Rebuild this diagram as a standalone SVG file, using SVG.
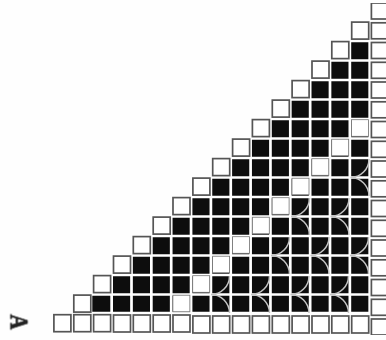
<svg xmlns="http://www.w3.org/2000/svg" width="386" height="340" viewBox="0 0 386 340">
<style>
.g{stroke:#fff;stroke-width:2.7;fill:none}
.w{fill:#fff;stroke:#555;stroke-width:1.7}
.d{fill:#fff;stroke:#777;stroke-width:.8}
.a{fill:none;stroke:#c4c4c4;stroke-width:1.5}
.t{font-family:"Liberation Serif",serif;font-weight:700;font-size:25px;fill:#222;stroke:#222;stroke-width:.7;text-anchor:middle}
</style>
<defs>
<filter id="soft" x="0" y="0" width="100%" height="100%"><feGaussianBlur stdDeviation=".55"/></filter>
<rect id="s" class="w" width="17" height="17"/>
<rect id="q" class="d" width="17" height="16.6"/>
<rect id="r" class="w" width="22" height="16"/>
<path id="v" class="a" d="M0 0A18.5 18.5 0 0 0 18.5 -18.5M0 0A18.5 18.5 0 0 1 18.5 18.5"/>
</defs>
<rect width="386" height="340" fill="#fefefe"/>
<g filter="url(#soft)">
<path id="black" fill="#0e0e0e" d="M92.3 313V294.5H112.15V275H132V255.5H151.85V236H171.7V216.5H191.55V197H211.4V177.5H231.25V158H251.1V138.5H270.95V119H290.8V99.5H310.65V80H330.5V60.5H350.35V41H370.2V313Z"/>
<g id="gutters" class="g">
<path d="M111.65 276V314M131.5 256V314M151.35 236V314M171.2 216V314M191.05 197V314M210.9 178V314M230.75 158V314M250.6 138V314M270.45 119V314M290.3 100V314M310.15 80V314M330 60V314M349.85 41V314M369.7 41V314"/>
<path d="M92 294.5H370M112 275H370M131 255.5H370M151 236H370M171 216.5H370M191 197H370M211 177.5H370M231 158H370M251 138.5H370M270 119H370M290 99.5H370M310 80H370M330 60.5H370M350 41H370M92 313H370"/>
</g>
<g id="diagonal">
<use href="#q" x="172.9" y="295.2"/><use href="#q" x="192.7" y="275.7"/><use href="#q" x="212.6" y="256.2"/><use href="#q" x="232.4" y="236.7"/><use href="#q" x="252.3" y="217.2"/><use href="#q" x="272.1" y="197.7"/><use href="#q" x="292" y="178.2"/><use href="#q" x="311.8" y="158.7"/><use href="#q" x="331.7" y="139.2"/><use href="#q" x="351.5" y="119.7"/>
</g>
<g id="stairs">
<use href="#s" x="73.8" y="295.1"/><use href="#s" x="93.6" y="275.6"/><use href="#s" x="113.5" y="256.1"/><use href="#s" x="133.3" y="236.6"/><use href="#s" x="153.2" y="217.1"/><use href="#s" x="173" y="197.6"/><use href="#s" x="192.9" y="178.1"/><use href="#s" x="212.7" y="158.6"/><use href="#s" x="232.6" y="139.1"/><use href="#s" x="252.4" y="119.6"/><use href="#s" x="272.3" y="100.1"/><use href="#s" x="292.1" y="80.6"/><use href="#s" x="312" y="61.1"/><use href="#s" x="331.8" y="41.6"/><use href="#s" x="351.7" y="22.1"/>
</g>
<g id="bottom">
<use href="#s" x="53.9" y="314.7"/><use href="#s" x="73.8" y="314.7"/><use href="#s" x="93.6" y="314.7"/><use href="#s" x="113.5" y="315"/><use href="#s" x="133.3" y="315"/><use href="#s" x="153.2" y="315"/><use href="#s" x="173" y="315"/><use href="#s" x="192.9" y="316"/><use href="#s" x="212.7" y="316"/><use href="#s" x="232.6" y="316"/><use href="#s" x="252.4" y="316"/><use href="#s" x="272.3" y="316"/><use href="#s" x="292.1" y="316"/><use href="#s" x="312" y="316"/><use href="#s" x="331.8" y="316"/><use href="#s" x="351.7" y="316"/>
</g>
<g id="right">
<use href="#r" x="371.4" y="3"/><use href="#r" x="371.4" y="22.8"/><use href="#r" x="371.4" y="42.5"/><use href="#r" x="371.4" y="62.3"/><use href="#r" x="371.4" y="82"/><use href="#r" x="371.4" y="101.8"/><use href="#r" x="371.4" y="121.5"/><use href="#r" x="371.4" y="141.3"/><use href="#r" x="371.4" y="161"/><use href="#r" x="371.4" y="180.8"/><use href="#r" x="371.4" y="200.5"/><use href="#r" x="371.4" y="220.3"/><use href="#r" x="371.4" y="240"/><use href="#r" x="371.4" y="259.8"/><use href="#r" x="371.4" y="279.5"/><use href="#r" x="371.4" y="299.3"/><use href="#r" x="371.4" y="319"/>
</g>
<g id="arcs">
<use href="#v" x="211" y="294.5"/><use href="#v" x="251" y="294.5"/><use href="#v" x="290.5" y="294.5"/><use href="#v" x="330" y="294.5"/>
<use href="#v" x="271" y="255.5"/><use href="#v" x="310.5" y="255.5"/><use href="#v" x="350" y="255.5"/>
<use href="#v" x="291" y="216.5"/><use href="#v" x="330.5" y="216.5"/>
<use href="#v" x="350.5" y="177.5"/>
</g>
<text class="t" transform="translate(10.5 322) rotate(90) scale(.85 1)">A</text>
</g>
</svg>
